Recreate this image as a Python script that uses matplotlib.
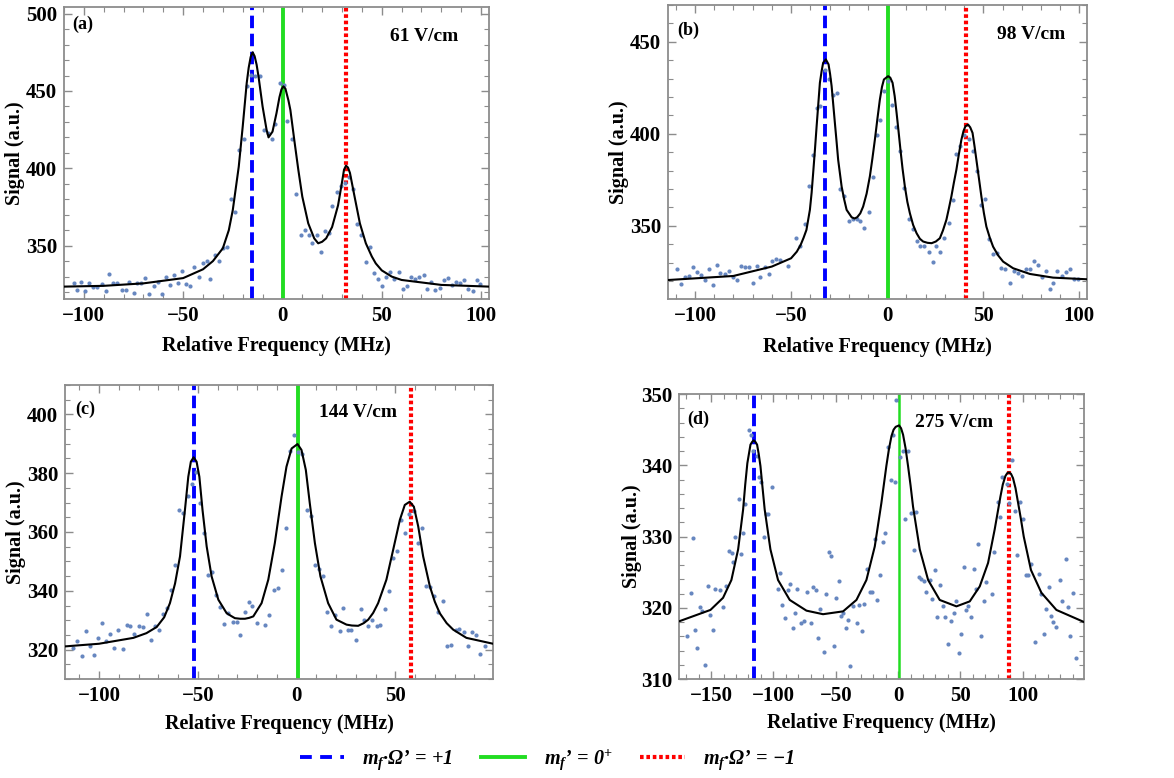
import matplotlib
matplotlib.use("Agg")
import matplotlib.pyplot as plt
from matplotlib.ticker import MultipleLocator
from matplotlib.lines import Line2D

plt.rcParams['font.family'] = ['Liberation Serif', 'DejaVu Serif']
plt.rcParams['font.weight'] = 'bold'
plt.rcParams['mathtext.fontset'] = 'custom'
plt.rcParams['mathtext.it'] = 'Liberation Serif:italic:bold'
plt.rcParams['mathtext.rm'] = 'Liberation Serif:bold'
plt.rcParams['mathtext.bf'] = 'Liberation Serif:bold'
plt.rcParams['lines.scale_dashes'] = False

# ---- panel (a), 61 V/cm ----
a_pts_x = [-105.0, -103.4, -101.3, -99.2, -97.3, -95.3, -93.3, -91.0, -88.9, -87.3, -85.3, -83.2, -80.9,
           -78.9, -77.1, -74.9, -73.2, -71.2, -69.2, -67.0, -64.8, -62.8, -60.6, -58.6, -56.6, -54.6,
           -52.4, -50.4, -48.4, -46.6, -44.4, -42.0, -40.0, -38.0, -36.3, -34.0, -31.8, -30.0, -28.0,
           -26.1, -24.0, -21.8, -19.6, -17.8, -15.9, -13.7, -11.4, -9.4, -7.4, -5.4, -3.5, -1.2, 1.0,
           2.5, 5.0, 7.0, 9.2, 11.2, 13.2, 15.1, 17.3, 19.3, 21.3, 23.3, 25.1, 27.3, 29.3, 31.3, 33.5,
           35.3, 37.5, 39.7, 41.9, 44.1, 46.1, 48.1, 50.1, 52.1, 54.4, 56.4, 58.5, 60.5, 62.5, 64.5,
           66.7, 68.8, 71.2, 72.9, 75.0, 76.9, 79.2, 81.2, 83.6, 85.6, 87.6, 89.6, 91.6, 93.6, 96.0,
           98.0, 99.7]
a_pts_y = [326.1, 321.3, 326.7, 320.9, 326.1, 323.5, 323.5, 325.2, 320.9, 331.7, 326.1, 326.1, 321.3,
           321.3, 326.7, 319.2, 326.1, 326.1, 328.9, 318.8, 323.9, 326.7, 318.8, 330.0, 324.4, 330.8,
           325.6, 333.8, 325.2, 323.9, 336.4, 329.5, 339.0, 339.9, 328.7, 344.0, 340.3, 348.3, 349.4,
           380.0, 371.8, 411.9, 418.8, 453.2, 460.6, 459.7, 459.7, 424.8, 422.6, 418.8, 428.7, 455.0,
           453.9, 430.8, 418.8, 383.2, 356.9, 360.1, 356.9, 351.5, 356.9, 346.1, 359.5, 358.4, 375.6,
           384.7, 388.6, 390.3, 394.6, 386.9, 363.8, 356.9, 339.7, 349.4, 332.5, 328.7, 323.9, 330.0,
           333.2, 328.7, 333.2, 321.8, 323.9, 330.0, 328.2, 330.0, 331.0, 322.2, 326.7, 321.3, 322.4,
           327.8, 329.1, 324.6, 326.5, 326.1, 327.8, 321.8, 320.9, 327.8, 325.2]
a_fit_x = [-110, -90, -70, -50, -40, -35, -30, -27, -25, -23.5, -22, -20, -18, -17, -16, -15, -14, -13,
           -12, -10, -8, -7, -5, -3, -1.5, -0.5, 0.5, 1.5, 3, 4, 6, 8, 10, 13, 16, 18, 20, 22, 25, 28,
           30, 31, 32, 33, 34, 36, 39, 42, 45, 47, 50, 55, 60, 80, 104]
a_fit_y = [323.5, 324.0, 325.6, 329.0, 334.7, 340.0, 348.3, 360.0, 373.0, 387.0, 401.0, 427.0, 455.0,
           465.0, 472.0, 475.0, 472.5, 467.0, 459.0, 440.0, 425.0, 420.0, 423.7, 435.6, 446.0, 451.0,
           453.0, 451.5, 444.0, 437.7, 418.0, 399.0, 381.7, 364.4, 354.7, 351.5, 352.5, 354.7, 362.0,
           376.0, 391.0, 399.0, 401.7, 400.5, 397.0, 383.8, 364.4, 351.5, 343.0, 338.5, 334.0, 330.0,
           327.8, 324.6, 323.5]
a_lines = [-15.4, 0.2, 32.0]

# ---- panel (b), 98 V/cm ----
b_pts_x = [-109.5, -107.3, -105.4, -103.1, -100.9, -99.0, -96.7, -94.6, -92.7, -90.6, -88.6, -86.7,
           -84.6, -82.5, -80.4, -78.2, -76.1, -73.8, -72.1, -70.0, -67.9, -65.9, -63.6, -61.7, -59.8,
           -57.7, -55.6, -51.6, -47.5, -45.1, -43.0, -40.9, -38.8, -36.7, -34.7, -32.6, -30.5, -28.4,
           -26.3, -24.3, -22.2, -20.1, -18.0, -15.9, -13.9, -11.8, -9.7, -7.6, -5.5, -3.5, -1.7, 0.3,
           2.4, 4.5, 6.6, 8.7, 11.1, 13.2, 15.3, 17.3, 19.4, 21.5, 23.6, 25.6, 27.7, 29.8, 31.9, 34.0,
           36.0, 38.1, 40.2, 42.6, 44.7, 46.8, 48.7, 50.8, 52.9, 55.1, 57.2, 59.3, 61.4, 63.8, 65.9,
           67.9, 70.0, 72.1, 74.2, 76.3, 78.3, 80.4, 82.5, 84.6, 86.3, 88.4, 90.8, 92.9, 95.0, 97.1,
           99.1]
b_pts_y = [326.4, 318.4, 322.1, 322.8, 327.9, 325.1, 323.3, 320.6, 326.4, 317.9, 328.8, 324.6, 323.9,
           325.7, 322.1, 320.6, 328.4, 327.9, 327.9, 319.1, 328.4, 322.4, 327.9, 323.9, 331.1, 331.9,
           331.5, 328.4, 343.3, 339.1, 351.1, 371.8, 388.7, 414.1, 415.0, 434.6, 429.9, 421.3, 421.9,
           370.0, 366.3, 352.9, 353.6, 353.6, 352.4, 349.1, 357.4, 376.3, 399.2, 407.7, 423.1, 428.6,
           415.9, 403.7, 390.5, 370.5, 353.6, 348.2, 342.0, 339.1, 339.1, 336.0, 330.2, 339.1, 336.0,
           343.3, 351.8, 364.2, 389.2, 393.2, 399.5, 397.2, 390.5, 379.6, 361.4, 364.5, 342.7, 334.8,
           335.5, 327.0, 326.4, 319.1, 325.7, 324.6, 322.8, 326.6, 326.8, 331.1, 328.8, 322.1, 325.5,
           315.5, 319.1, 325.7, 322.8, 325.1, 326.4, 321.0, 321.0]
b_fit_x = [-114, -100, -80, -60, -50, -47, -45, -43.5, -42, -40.2, -39.3, -38.5, -37.6, -36.7, -35.0,
           -34.1, -33.3, -31.9, -30.5, -29.7, -28.9, -27.2, -26.3, -25.5, -23.7, -22.4, -21.1, -18.5,
           -17, -15.6, -14, -12.5, -10.7, -9.0, -7.7, -6.4, -5.1, -3.8, -2.7, -1.7, 0.5, 1.6, 2.8, 3.9,
           4.9, 5.9, 6.9, 8, 9.2, 10.5, 11.8, 13.5, 15.3, 17, 18.7, 21, 23.1, 25.3, 27.4, 29, 30.8,
           32.1, 33.4, 34.7, 36.0, 37.3, 38.6, 39.7, 40.7, 42.1, 43.2, 44.4, 45.4, 46.4, 47.7, 49.0,
           50.3, 51.6, 53.4, 55.1, 57.7, 60.3, 65.5, 74.2, 86.3, 104]
b_fit_y = [320.6, 321.5, 322.8, 327.9, 332.4, 336.0, 339.7, 343.5, 347.8, 358.7, 368.0, 378.7, 391.0,
           404.1, 427.7, 434.0, 438.6, 440.4, 437.7, 432.5, 425.9, 405.9, 395.5, 385.9, 371.4, 364.5,
           358.7, 354.7, 354.0, 354.7, 356.8, 360.5, 367.5, 376.9, 386.5, 396.8, 408.0, 418.6, 425.5,
           429.5, 431.3, 430.5, 427.7, 420.5, 411.3, 401.5, 391.4, 381.0, 371.4, 363.0, 356.9, 350.5,
           346.0, 343.0, 341.5, 340.8, 340.6, 341.5, 343.3, 347.5, 353.3, 359.5, 366.0, 373.5, 380.5,
           389.0, 396.8, 401.5, 404.1, 405.0, 403.5, 400.5, 393.5, 385.9, 376.0, 366.0, 357.0, 349.6,
           343.5, 338.7, 334.0, 330.6, 327.0, 323.9, 321.9, 321.0]
b_lines = [-32.2, 0.5, 41.2]

# ---- panel (c), 144 V/cm ----
c_pts_x = [-113.3, -111.0, -108.8, -106.6, -104.6, -102.5, -100.5, -98.5, -96.5, -94.4, -92.4, -90.2,
           -88.0, -86.0, -84.3, -82.1, -79.9, -77.9, -75.7, -73.9, -71.8, -69.8, -67.8, -65.8, -63.6,
           -61.7, -59.4, -57.3, -55.1, -53.0, -51.1, -48.9, -46.9, -44.9, -42.8, -40.8, -38.8, -36.8,
           -34.6, -32.4, -30.2, -28.5, -26.3, -24.3, -22.3, -19.9, -16.0, -13.8, -11.5, -9.6, -7.4,
           -5.4, -3.4, -1.3, 0.8, 3.0, 5.1, 7.4, 9.3, 11.3, 13.5, 15.5, 17.5, 19.6, 21.9, 23.6, 25.8,
           27.8, 30.0, 32.4, 34.4, 36.4, 38.4, 40.5, 42.5, 45.0, 46.9, 48.9, 51.1, 52.8, 55.0, 57.0,
           59.7, 61.7, 63.7, 65.4, 67.5, 69.5, 71.8, 74.2, 76.2, 78.4, 80.6, 82.3, 84.7, 86.7, 88.7,
           91.1, 93.1, 95.4]
c_pts_y = [320.6, 322.8, 317.7, 326.2, 321.4, 318.1, 324.0, 329.0, 323.1, 325.3, 320.6, 326.6, 320.2,
           328.3, 328.1, 325.3, 327.9, 327.6, 332.2, 323.4, 328.1, 326.6, 332.2, 334.1, 340.4, 348.8,
           367.5, 366.6, 372.3, 376.3, 380.3, 370.0, 359.6, 345.5, 346.4, 338.7, 334.5, 328.7, 332.4,
           329.3, 329.3, 324.9, 332.7, 336.1, 334.9, 329.0, 328.4, 331.9, 340.4, 340.9, 347.1, 361.3,
           387.5, 393.0, 387.3, 386.5, 367.5, 365.5, 348.8, 347.4, 344.9, 332.7, 328.1, 331.7, 326.2,
           334.3, 326.6, 326.6, 323.4, 333.9, 330.2, 328.1, 330.0, 328.1, 328.5, 333.8, 340.0, 351.1,
           353.4, 364.1, 359.8, 366.2, 367.3, 356.2, 361.4, 341.7, 341.2, 338.3, 332.7, 336.4, 321.1,
           321.7, 326.8, 327.0, 325.9, 321.1, 326.1, 325.1, 318.6, 321.4]
c_fit_x = [-117.2, -100.0, -82.6, -76, -70.8, -67, -64.1, -61.5, -59.0, -56.5, -54.8, -53.5, -52.1,
           -50.6, -49.2, -47.6, -45.5, -43.0, -39.6, -35.4, -33, -31.2, -28.5, -26.1, -24, -21.9, -17.7,
           -14.3, -11.0, -7.6, -5.1, -2.5, 0.5, 2.5, 4.7, 6.7, 9.3, 12.1, 16.0, 20.2, 25.3, 28, 31.2,
           34, 36.3, 38.8, 41.3, 45.5, 48.9, 52.3, 54.8, 57.3, 59.4, 61.6, 64.1, 67.5, 70, 72.5, 76,
           79.3, 86.0, 99.5]
c_fit_y = [321.1, 322.0, 324.0, 325.6, 327.7, 331.0, 335.8, 342.5, 351.7, 367.5, 378.8, 383.9, 385.4,
           383.9, 378.8, 367.5, 355.1, 344.9, 337.0, 332.4, 331.4, 330.7, 330.5, 330.5, 330.8, 331.3,
           335.8, 343.8, 356.2, 372.0, 382.2, 388.4, 389.9, 387.9, 381.1, 369.8, 356.2, 344.9, 335.8,
           330.2, 328.5, 328.2, 328.1, 329.0, 330.2, 332.5, 335.8, 343.8, 353.9, 364.1, 369.2, 370.3,
           368.6, 361.9, 351.7, 341.5, 336.3, 332.4, 329.0, 326.8, 324.0, 322.0]
c_lines = [-52.1, 0.5, 57.7]

# ---- panel (d), 275 V/cm ----
d_pts_x = [-169.3, -166.3, -164.7, -162.8, -161.0, -159.1, -157.0, -154.8, -152.4, -150.5, -148.7,
           -146.5, -142.8, -140.4, -137.7, -135.8, -133.4, -132.1, -130.5, -127.5, -125.9, -124.1,
           -122.5, -119.8, -117.6, -116.3, -113.4, -111.2, -109.6, -107.8, -105.6, -104.0, -100.8,
           -96.5, -94.9, -93.0, -90.9, -88.5, -86.4, -84.0, -82.4, -81.0, -77.5, -75.1, -73.0, -69.8,
           -68.2, -66.0, -63.9, -62.3, -59.6, -58.0, -55.3, -54.0, -51.6, -50.0, -47.3, -46.0, -43.9,
           -41.4, -40.1, -38.8, -36.1, -33.2, -31.3, -28.6, -27.0, -24.9, -22.2, -20.6, -18.4, -16.6,
           -14.2, -12.0, -10.4, -7.8, -5.9, -4.0, -2.1, -1.3, 1.9, 4.0, 5.9, 8.0, 10.7, 12.6, 14.7,
           16.8, 18.7, 21.1, 22.7, 25.7, 27.5, 29.9, 31.6, 33.4, 36.1, 38.0, 39.8, 42.2, 44.7, 46.5,
           48.7, 50.3, 52.7, 54.8, 55.9, 58.8, 61.0, 62.8, 64.4, 66.8, 69.0, 70.9, 75.1, 77.3, 79.9,
           81.6, 83.7, 87.2, 89.0, 91.4, 93.9, 95.7, 97.9, 100.3, 102.9, 104.0, 106.4, 109.9, 113.1,
           114.4, 117.1, 119.0, 121.4, 123.0, 124.3, 127.0, 129.7, 131.8, 134.8, 136.4, 137.7, 140.1,
           143.0]
d_pts_y = [316.0, 322.1, 329.8, 316.9, 314.4, 320.1, 319.5, 312.0, 323.0, 319.0, 316.9, 322.7, 322.5,
           320.1, 323.1, 328.0, 327.7, 326.4, 329.9, 335.3, 327.6, 330.5, 334.6, 345.0, 344.2, 342.0,
           341.3, 338.4, 337.7, 329.9, 333.2, 333.2, 337.0, 322.7, 324.9, 320.4, 318.6, 322.5, 323.4,
           317.2, 319.2, 322.6, 317.9, 318.1, 322.2, 317.9, 322.9, 322.5, 315.7, 319.8, 313.8, 322.0,
           327.9, 327.2, 314.7, 321.4, 323.7, 318.8, 319.2, 317.2, 318.3, 311.9, 320.3, 317.9, 320.4,
           316.7, 320.5, 325.5, 322.2, 322.2, 329.7, 321.1, 324.6, 329.3, 330.5, 342.6, 338.0, 344.3,
           337.7, 349.2, 341.2, 342.0, 332.5, 342.0, 333.3, 328.1, 333.4, 324.3, 324.0, 323.8, 322.2,
           323.9, 321.3, 325.3, 318.7, 323.2, 320.2, 318.7, 314.9, 318.2, 319.2, 320.9, 313.7, 316.3,
           325.7, 319.7, 320.2, 318.7, 325.5, 322.7, 329.0, 316.1, 321.0, 323.6, 321.9, 327.8, 334.9,
           332.8, 338.3, 337.4, 334.7, 340.8, 333.6, 327.4, 334.9, 332.4, 324.6, 324.6, 326.1, 315.2,
           324.7, 322.0, 316.3, 319.8, 322.9, 318.8, 318.0, 317.3, 323.9, 321.0, 326.9, 320.1, 316.0,
           322.1, 312.9]
d_fit_x = [-175.7, -150.5, -140.4, -133.7, -128.3, -124.3, -122.6, -120.9, -118.4, -117, -115.8,
           -114.5, -113.1, -111.8, -110.4, -108.8, -107.0, -102.4, -96.3, -86.9, -73.5, -60.2, -44.1,
           -33.4, -25.4, -18.7, -13.4, -9.4, -7.4, -5.3, -3.6, -1.9, 0.8, 2.4, 4.0, 6, 8.0, 10, 12.0,
           17.4, 24.1, 33.4, 46.8, 57.5, 65.5, 72.2, 77.5, 82.1, 84, 86.1, 87.6, 89.0, 90.6, 92.2, 94.2,
           96.3, 98.5, 100.8, 106.6, 115.0, 127.0, 149.2]
d_fit_y = [318.1, 319.7, 321.4, 323.9, 328.2, 333.8, 337.3, 340.3, 342.9, 343.3, 343.5, 343.3, 342.9,
           341.6, 339.9, 337.0, 333.8, 328.2, 323.9, 321.1, 319.6, 319.1, 319.5, 321.1, 323.9, 328.6,
           334.7, 339.9, 342.2, 344.1, 345.0, 345.4, 345.6, 345.2, 344.3, 342.4, 339.9, 337.2, 334.2,
           328.2, 323.9, 321.1, 320.2, 320.9, 323.0, 326.3, 331.0, 335.6, 337.3, 338.5, 338.9, 339.0,
           338.8, 338.2, 336.8, 334.7, 332.5, 330.0, 325.3, 322.1, 319.7, 318.0]
d_lines = [-115.8, 0.5, 89.3]

panel_tags = ['(a)', '(b)', '(c)', '(d)']
field_labels = ['61 V/cm', '98 V/cm', '144 V/cm', '275 V/cm']

# layout / style per panel (not data)
rects = [[0.0545, 0.6157, 0.362, 0.3753],
         [0.569, 0.6157, 0.357, 0.378],
         [0.0554, 0.1272, 0.3646, 0.378],
         [0.5784, 0.1272, 0.345, 0.3663]]
xlims = [(-110, 104), (-114, 104), (-117.2, 99.5), (-175.7, 149.2)]
ylims = [(315.5, 504.3), (310.3, 470), (310, 410), (310, 350)]
xmaj = [50, 50, 50, 50]
xmin = [10, 10, 10, 10]
ymaj = [50, 50, 20, 10]
ymin = [10, 10, 5, 2]
tag_pos = [(0.02, 0.94), (0.021, 0.915), (0.023, 0.918), (0.02, 0.912)]
field_pos = [(0.767, 0.90), (0.785, 0.898), (0.593, 0.905), (0.583, 0.90)]
ylab_x = [-0.115, -0.117, -0.115, -0.116]
xlab_y = [-0.16, -0.163, -0.152, -0.155]
green_lw = [2.8, 2.8, 2.8, 1.8]

data = [(a_pts_x, a_pts_y, a_fit_x, a_fit_y, a_lines),
        (b_pts_x, b_pts_y, b_fit_x, b_fit_y, b_lines),
        (c_pts_x, c_pts_y, c_fit_x, c_fit_y, c_lines),
        (d_pts_x, d_pts_y, d_fit_x, d_fit_y, d_lines)]

BLUE = '#0000ff'
GREEN = '#22dd22'
RED = '#ff0000'
DOTS = '#6787c0'
FRAME = '#8c8c8c'

fig = plt.figure(figsize=(11.74, 7.78), dpi=100)

for i in range(4):
    px, py, fx, fy, vl = data[i]
    ax = fig.add_axes(rects[i])
    ax.axvline(vl[0], color=BLUE, lw=2.8, dashes=(9.0, 4.0), zorder=2)
    ax.axvline(vl[1], color=GREEN, lw=green_lw[i], zorder=2)
    ax.axvline(vl[2], color=RED, lw=3.0, dashes=(2.6, 2.0), zorder=2)
    ax.scatter(px, py, s=9, color=DOTS, linewidths=0, zorder=3)
    ax.plot(fx, fy, color='black', lw=1.5, zorder=4)
    ax.set_xlim(xlims[i])
    ax.set_ylim(ylims[i])
    ax.xaxis.set_major_locator(MultipleLocator(xmaj[i]))
    ax.xaxis.set_minor_locator(MultipleLocator(xmin[i]))
    ax.yaxis.set_major_locator(MultipleLocator(ymaj[i]))
    ax.yaxis.set_minor_locator(MultipleLocator(ymin[i]))
    ax.tick_params(which='both', direction='in', top=True, right=True, color=FRAME, labelsize=15, pad=5)
    ax.tick_params(which='major', length=6, width=1)
    ax.tick_params(which='minor', length=3.5, width=0.8)
    for s in ax.spines.values():
        s.set_color(FRAME)
        s.set_linewidth(1.3)
    ax.set_xlabel('Relative Frequency (MHz)', fontsize=14.5, fontweight='bold', va='center')
    ax.set_ylabel('Signal (a.u.)', fontsize=14.5, fontweight='bold', va='center')
    ax.xaxis.set_label_coords(0.5, xlab_y[i])
    ax.yaxis.set_label_coords(ylab_x[i], 0.5)
    ax.text(tag_pos[i][0], tag_pos[i][1], panel_tags[i], transform=ax.transAxes,
            fontsize=13, fontweight='bold', ha='left', va='center')
    ax.text(field_pos[i][0], field_pos[i][1], field_labels[i], transform=ax.transAxes,
            fontsize=14, fontweight='bold', ha='left', va='center')

handles = [Line2D([], [], color=BLUE, lw=2.8, dashes=(8.5, 6.0)),
           Line2D([], [], color=GREEN, lw=2.8),
           Line2D([], [], color=RED, lw=3.0, dashes=(2.6, 2.0))]
labels = [r"$m_f$·Ω’ = +1", r"$m_f$’ = 0$^{+}$", r"$m_f$·Ω’ = −1"]
fig.legend(handles, labels, loc='center', bbox_to_anchor=(0.466, 0.024), ncol=3, frameon=False,
           prop=dict(family='Liberation Serif', weight='bold', style='italic', size=14.5),
           handlelength=2.2, columnspacing=1.4, handletextpad=0.9)

fig.savefig('out.png', dpi=100)
